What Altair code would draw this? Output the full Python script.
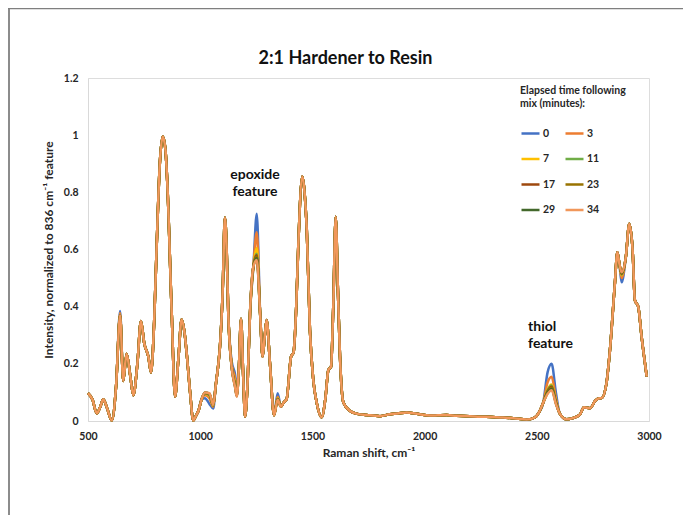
import altair as alt
import pandas as pd

# Base spectrum (Raman shift, normalized intensity)
SHIFT = [500, 520, 539, 555, 568, 585, 606, 625, 643, 657, 672, 688, 702, 720, 736, 751, 769, 781, 795, 806,
         820, 833, 845, 853, 873, 888, 903, 917, 930, 940, 955, 969, 982, 992, 1006, 1021, 1041, 1058, 1070, 1081,
         1088, 1100, 1110, 1118, 1125, 1140, 1155, 1163, 1172, 1182, 1192, 1200, 1212, 1222, 1237, 1252, 1267, 1278,
         1288, 1296, 1311, 1329, 1345, 1360, 1372, 1385, 1405, 1416, 1428, 1437, 1455, 1465, 1475, 1489, 1504, 1520,
         1541, 1558, 1571, 1583, 1593, 1604, 1614, 1623, 1638, 1668, 1700, 1742, 1801, 1846, 1880, 1920, 1965, 2024,
         2060, 2098, 2143, 2200, 2247, 2300, 2350, 2395, 2455, 2490, 2510, 2529, 2548, 2566, 2585, 2603, 2633, 2660,
         2692, 2710, 2737, 2760, 2774, 2789, 2810, 2826, 2848, 2859, 2868, 2878, 2897, 2912, 2927, 2937, 2952, 2967,
         2990]
BASE = [0.097, 0.075, 0.027, 0.05, 0.076, 0.045, 0.002, 0.12, 0.37, 0.14, 0.235, 0.16, 0.09, 0.2, 0.35, 0.27,
        0.225, 0.17, 0.35, 0.61, 0.9, 0.995, 0.95, 0.84, 0.38, 0.085, 0.22, 0.355, 0.31, 0.235, 0.1, 0.002, 0.02,
        0.035, 0.075, 0.10, 0.097, 0.056, 0.13, 0.2, 0.26, 0.45, 0.712, 0.6, 0.38, 0.19, 0.12, 0.085, 0.18, 0.358,
        0.15, 0.015, 0.15, 0.377, 0.54, 0.563, 0.377, 0.225, 0.3, 0.353, 0.2, 0.02, 0.074, 0.05, 0.065, 0.076, 0.225,
        0.24, 0.4, 0.61, 0.855, 0.8, 0.668, 0.318, 0.143, 0.06, 0.013, 0.08, 0.178, 0.19, 0.4, 0.715, 0.45, 0.225,
        0.065, 0.035, 0.025, 0.021, 0.017, 0.024, 0.026, 0.03, 0.025, 0.019, 0.02, 0.021, 0.018, 0.017, 0.015, 0.014,
        0.012, 0.01, 0.005, 0.012, 0.03, 0.065, 0.095, 0.108, 0.06, 0.025, 0.006, 0.01, 0.022, 0.048, 0.045, 0.07,
        0.079, 0.08, 0.13, 0.248, 0.482, 0.59, 0.55, 0.52, 0.575, 0.69, 0.598, 0.423, 0.40, 0.295, 0.155]

# Positions where the traces differ with elapsed time, and each trace's values there
DIFF_SHIFT = [643, 1021, 1041, 1058, 1140, 1155, 1163, 1252, 1345, 2548, 2566, 2585, 2878]
T0 = [0.385, 0.08, 0.06, 0.044, 0.21, 0.165, 0.12, 0.725, 0.097, 0.17, 0.20, 0.10, 0.485]
T3 = [0.378, 0.09, 0.08, 0.05, 0.20, 0.15, 0.105, 0.66, 0.085, 0.135, 0.155, 0.08, 0.50]
T7 = [0.372, 0.095, 0.088, 0.053, 0.195, 0.135, 0.095, 0.605, 0.08, 0.11, 0.128, 0.07, 0.51]
T11 = [0.372, 0.097, 0.09, 0.054, 0.193, 0.13, 0.092, 0.585, 0.078, 0.107, 0.124, 0.068, 0.512]
T17 = [0.371, 0.098, 0.093, 0.055, 0.192, 0.127, 0.09, 0.58, 0.077, 0.104, 0.12, 0.066, 0.515]
T23 = [0.37, 0.099, 0.095, 0.055, 0.191, 0.124, 0.088, 0.575, 0.076, 0.10, 0.116, 0.064, 0.517]
T29 = [0.37, 0.10, 0.096, 0.056, 0.19, 0.122, 0.087, 0.57, 0.075, 0.098, 0.112, 0.062, 0.518]
T34 = [0.37, 0.10, 0.097, 0.056, 0.19, 0.12, 0.085, 0.563, 0.074, 0.095, 0.108, 0.06, 0.52]

TIMES = ["0", "3", "7", "11", "17", "23", "29", "34"]
DIFFS = [T0, T3, T7, T11, T17, T23, T29, T34]
COLORS = ["#4472C4", "#ED7D31", "#FFC000", "#70AD47", "#9E480E", "#997300", "#43682B", "#F1975A"]

ANNOT_TEXT = ["epoxide", "feature", "thiol", "feature"]
ANNOT_X = [1244, 1244, 2461, 2461]
ANNOT_Y = [0.862, 0.8, 0.33, 0.268]
ANNOT_ALIGN = ["center", "center", "left", "left"]

rows = []
for t, diff in zip(TIMES, DIFFS):
    over = dict(zip(DIFF_SHIFT, diff))
    for i, (s, v) in enumerate(zip(SHIFT, BASE)):
        rows.append({"shift": s, "intensity": over.get(s, v), "time": t, "idx": i})
df = pd.DataFrame(rows)

FONT = "Lato"
TXT = "#262626"

lines = alt.Chart(df).mark_line(strokeWidth=2.5, interpolate="monotone").encode(
    x=alt.X("shift:Q", scale=alt.Scale(domain=[500, 3000], nice=False),
            axis=alt.Axis(values=[500, 1000, 1500, 2000, 2500, 3000], format="d", grid=False, ticks=False,
                          domainColor="#d9d9d9", labelFont=FONT, labelFontSize=10.5, labelFontWeight="bold",
                          labelColor=TXT, labelPadding=10, labelFlush=False, title="Raman shift, cm\u207b\u00b9",
                          titleFont=FONT, titleFontSize=12, titleFontWeight="bold", titleColor=TXT,
                          titlePadding=6)),
    y=alt.Y("intensity:Q", scale=alt.Scale(domain=[0, 1.2], nice=False),
            axis=alt.Axis(values=[0, 0.2, 0.4, 0.6, 0.8, 1.0, 1.2], format="~g", grid=False, ticks=False,
                          domainColor="#d9d9d9", labelFont=FONT, labelFontSize=10.5, labelFontWeight="bold",
                          labelColor=TXT, labelPadding=10, labelFlush=False,
                          title="Intensity, normalized to 836 cm\u207b\u00b9 feature",
                          titleFont=FONT, titleFontSize=12, titleFontWeight="bold", titleColor=TXT,
                          titlePadding=8)),
    color=alt.Color("time:N", sort=TIMES, scale=alt.Scale(domain=TIMES, range=COLORS),
                    legend=alt.Legend(title=["Elapsed time following", "mix (minutes):"], orient="none",
                                      direction="horizontal",
                                      legendX=432, legendY=8, columns=2, symbolType="stroke",
                                      symbolSize=324, symbolStrokeWidth=2.5, columnPadding=4, rowPadding=9.5,
                                      titleFont=FONT, titleFontSize=10.5, titleFontWeight="bold",
                                      titleColor=TXT, titlePadding=14, labelFont=FONT, labelFontSize=10.5,
                                      labelFontWeight="bold", labelColor=TXT, labelOffset=2)),
    detail="time:N",
    order="idx:Q",
)

annot_df = pd.DataFrame({"text": ANNOT_TEXT, "x": ANNOT_X, "y": ANNOT_Y, "align": ANNOT_ALIGN})
annot_c = alt.Chart(annot_df[annot_df["align"] == "center"]).mark_text(
    font=FONT, fontSize=14, fontWeight="bold", color="#111", align="center", baseline="middle"
).encode(x="x:Q", y="y:Q", text="text:N")
annot_l = alt.Chart(annot_df[annot_df["align"] == "left"]).mark_text(
    font=FONT, fontSize=14, fontWeight="bold", color="#111", align="left", baseline="middle"
).encode(x="x:Q", y="y:Q", text="text:N")

frame_df = pd.DataFrame({"k": [0]})
frame_left = alt.Chart(frame_df).mark_rule(color="#8c8c8c", strokeWidth=2).encode(
    x=alt.value(-79), y=alt.value(-70), y2=alt.value(700))
frame_top = alt.Chart(frame_df).mark_rule(color="#7f7f7f", strokeWidth=1.5).encode(
    x=alt.value(-80), x2=alt.value(700), y=alt.value(-69.5))

chart = alt.layer(frame_left, frame_top, lines, annot_c, annot_l).properties(
    width=561, height=343,
    title=alt.TitleParams("2:1 Hardener to Resin", font=FONT, fontSize=18, fontWeight="bold",
                          color="#111", anchor="middle", dx=-23, dy=61, offset=0),
    autosize=alt.AutoSizeParams(type="none"),
    padding={"left": 80, "top": 70, "right": 34, "bottom": 94},
).configure_view(stroke=None).configure(background="white")

chart.save("out.html", embed_options={"renderer": "svg", "actions": False})
